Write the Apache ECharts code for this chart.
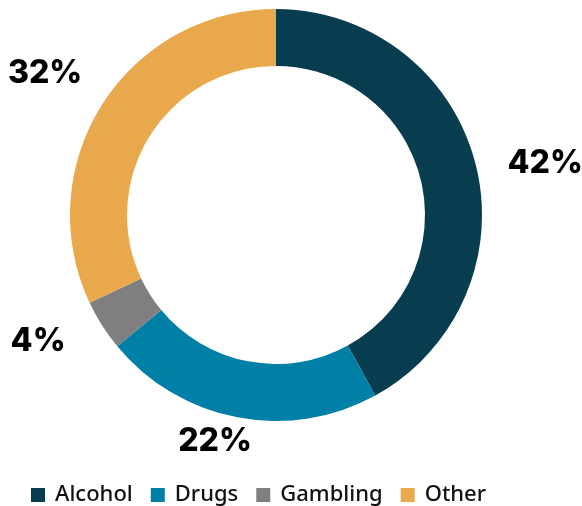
<!DOCTYPE html>
<html lang="en">
<head>
    <meta charset="UTF-8">
    <title>Donut</title>
    <script src="https://cdn.jsdelivr.net/npm/echarts@6/dist/echarts.min.js"></script>
    <style>
        html, body { margin: 0; padding: 0; background: #fff; }
        #chart { width: 582px; height: 506px; }
    </style>
</head>
<body>
<div id="chart"></div>
<script type="text/javascript">
    // 数据
    var categories = ['Alcohol', 'Drugs', 'Gambling', 'Other'];
    var values = [42, 22, 4, 32];
    var colors = ['#083d4f', '#0080a6', '#7f7f7f', '#e9a84b'];
    // 标签引线长度（不显示，只用来放标签）
    var lineLen = [1, 24, 29, 59];
    var lineLen2 = [26, -24, 7, -35];

    var myChart = echarts.init(document.getElementById('chart'));

    var pieData = [];
    for (var i = 0; i < categories.length; i++) {
        pieData.push({
            name: categories[i],
            value: values[i],
            itemStyle: { color: colors[i] },
            labelLine: { show: false, length: lineLen[i], length2: lineLen2[i] }
        });
    }

    var option = {
        animation: false,
        legend: {
            top: 479,
            left: 26,
            icon: 'rect',
            itemWidth: 14,
            itemHeight: 14,
            itemGap: 18,
            textStyle: {
                fontFamily: 'Noto Sans',
                fontWeight: 500,
                fontSize: 22,
                color: '#111',
                padding: [0, 0, 0, 5]
            },
            data: categories
        },
        series: [{
            type: 'pie',
            center: [276, 215],
            radius: [149, 206],
            startAngle: 90,
            clockwise: true,
            avoidLabelOverlap: false,
            label: {
                show: true,
                position: 'outside',
                formatter: '{c}%',
                width: 80,
                color: '#000',
                fontFamily: 'Inter',
                fontWeight: 800,
                fontSize: 32
            },
            labelLine: { show: false },
            emphasis: { disabled: true },
            data: pieData
        }]
    };

    myChart.setOption(option);
</script>
</body>
</html>
